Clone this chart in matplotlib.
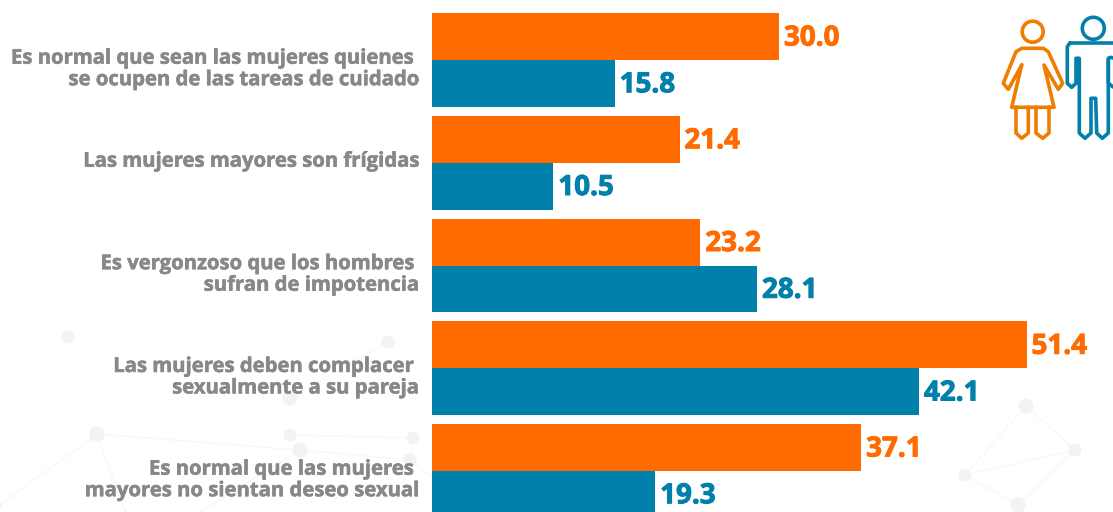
#!/usr/bin/env python3
import numpy as np
import matplotlib
matplotlib.use("Agg")
import matplotlib.pyplot as pl
import matplotlib.patheffects as pe
from matplotlib.path import Path
from matplotlib.patches import PathPatch, Circle

###data
labels = ["Es normal que sean las mujeres quienes \nse ocupen de las tareas de cuidado",
          "Las mujeres mayores son frígidas",
          "Es vergonzoso que los hombres \nsufran de impotencia",
          "Las mujeres deben complacer \nsexualmente a su pareja",
          "Es normal que las mujeres \nmayores no sientan deseo sexual"]
mujeres = [30.0, 21.4, 23.2, 51.4, 37.1]
hombres = [15.8, 10.5, 28.1, 42.1, 19.3]

orange = "#ff6b00"
blue = "#0080aa"
grey = "#888888"

#faint network in the background, figure pixels
nodes = [(97, 434, 7), (290, 435, 6), (413, 438, 6), (300, 450, 7), (410, 460, 6), (290, 398, 7),
         (1026, 406, 7), (965, 475, 6), (1075, 450, 6), (1018, 505, 7), (68, 337, 6), (388, 342, 6),
         (0, 505, 1), (125, 512, 1), (200, 512, 1), (480, 512, 1)]
links = [(0, 3), (1, 2), (3, 4), (0, 12), (0, 13), (2, 4), (6, 7), (7, 8), (7, 9), (6, 8), (8, 9),
         (3, 14), (4, 15), (5, 11)]

#icons, figure pixels (x, y from the top)
woman = [[(1021.7, 65), (1011.7, 107.3), (1054, 107.3), (1044, 65), (1058.3, 89.3), (1062.7, 83.3),
          (1048.3, 51.7), (1043.3, 48.3), (1021.7, 48.3), (1016, 51.7), (1003.3, 83.3), (1008.3, 89.3),
          (1021.7, 65)],
         [(1016, 107), (1016, 133), (1021.7, 138.3), (1028.3, 133), (1028.3, 107)],
         [(1036, 107), (1036, 133), (1042.7, 138.3), (1049, 133), (1049, 107)]]
man = [[(1070, 42.7), (1113, 42.7)],
       [(1070, 42.7), (1067.3, 46.7), (1067.3, 83.3), (1071.7, 87.3), (1076, 83.3), (1076, 58.3),
        (1079.3, 58.3), (1079.3, 133), (1085, 138.3), (1091, 133), (1091, 98.3), (1095.7, 98.3),
        (1096.7, 133), (1102.3, 138.3), (1108.3, 133), (1108.3, 58.3), (1110.7, 57.3), (1113, 58)],
       [(1108.3, 60), (1108.3, 83), (1113, 87)]]

fig = pl.figure(figsize=(11.13, 5.12), dpi=100)
ax0 = fig.add_axes([0, 0, 1, 1])
ax0.set_xlim(0, 1113)
ax0.set_ylim(512, 0)
ax0.axis("off")
for a, b in links:
    ax0.plot([nodes[a][0], nodes[b][0]], [nodes[a][1], nodes[b][1]], color="#f8f8f8", lw=1, zorder=1)
for x, y, r in nodes:
    ax0.add_patch(Circle((x, y), r, color="#f3f3f3", zorder=2))

ax = fig.add_axes([0, 0, 1, 1])
ax.patch.set_alpha(0)
ax.set_xlim(-432 / 11.57, (1113 - 432) / 11.57)
ax.set_ylim((512 - 60) / 102.75, -60 / 102.75)
ax.axis("off")

y = np.arange(len(labels))
h = 0.455
ax.barh(y - h / 2, mujeres, height=h, color=orange)
ax.barh(y + h / 2, hombres, height=h, color=blue)

for i in y:
    for val, off, col in ((mujeres[i], -h / 2, orange), (hombres[i], h / 2, blue)):
        t = ax.annotate("%.1f" % val, (val, i + off), xytext=(3.5, -1), textcoords="offset points",
                        color=col, fontsize=20, fontweight="bold", family="Open Sans", va="center", ha="left")
        t.set_path_effects([pe.withStroke(linewidth=0.7, foreground=col)])
    #two line labels sit lower than the bar centre
    shift = 0.092 if "\n" in labels[i] else -0.01
    t = ax.annotate(labels[i], (0, i + shift), xytext=(-9, 0), textcoords="offset points", color=grey,
                    fontsize=14.6, fontweight="bold", family="Open Sans", va="center", ha="right",
                    multialignment="right", linespacing=1.1)
    t.set_path_effects([pe.withStroke(linewidth=0.4, foreground=grey)])

#icons
ax0.add_patch(Circle((1032.7, 31.7), 10.5, fill=False, ec="#ef7d00", lw=2.6, zorder=5))
ax0.add_patch(Circle((1093.3, 28.3), 11, fill=False, ec=blue, lw=2.6, zorder=5))
for part in woman:
    ax0.add_patch(PathPatch(Path(part), fill=False, ec="#ef7d00", lw=2.6, joinstyle="round", capstyle="round", zorder=5))
for part in man:
    ax0.add_patch(PathPatch(Path(part), fill=False, ec=blue, lw=2.6, joinstyle="round", capstyle="round", zorder=5))

pl.savefig("out.png", dpi=100)
pl.close()
